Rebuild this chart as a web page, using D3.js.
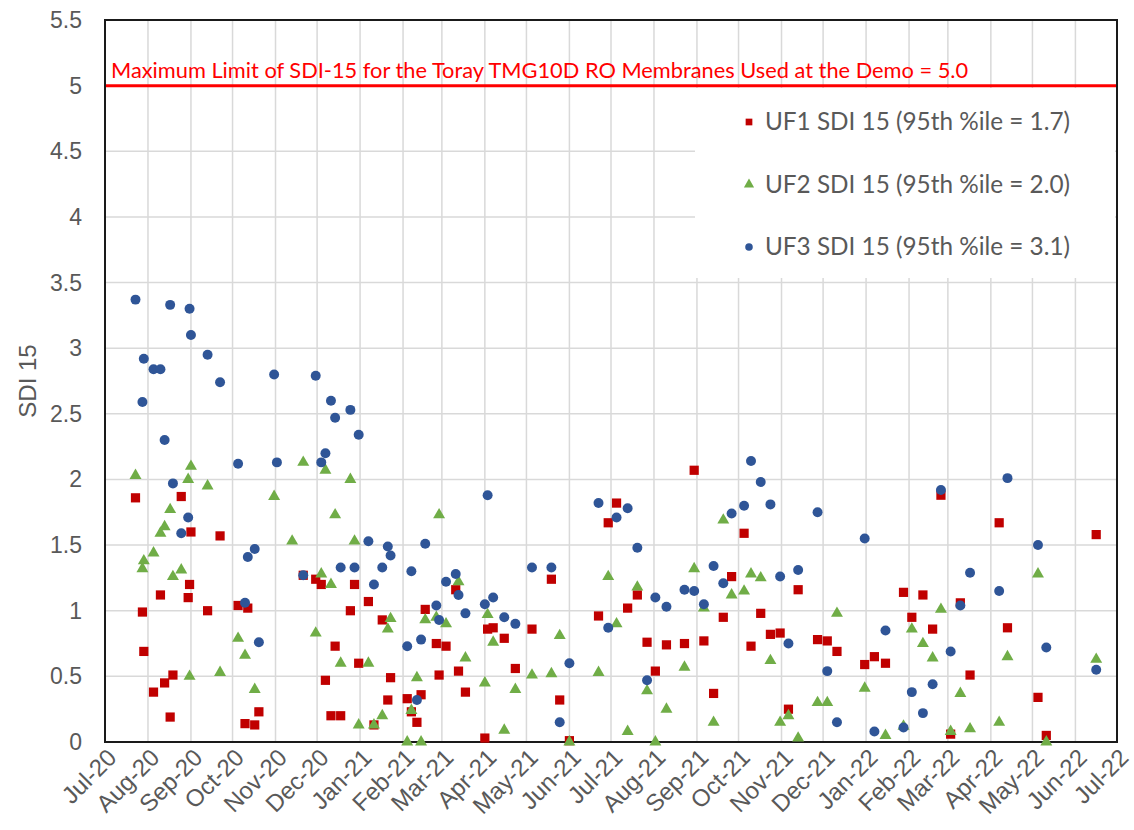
<!DOCTYPE html>
<html>
<head>
<meta charset="utf-8">
<script src="https://cdnjs.cloudflare.com/ajax/libs/d3/7.8.5/d3.min.js"></script>
<style>
	body { margin: 0; background: #fff; }
	#chart { width: 1134px; height: 830px; }
	.tick-label { font-family: "Liberation Sans", Arial, sans-serif; fill: #595959; }
</style>
</head>
<body>
<div id="chart"></div>
<script>
let sampleDates = [
	"2020-07-23", "2020-07-28", "2020-07-29", "2020-08-05", "2020-08-10", "2020-08-13",
	"2020-08-17", "2020-08-19", "2020-08-25", "2020-08-30", "2020-08-31", "2020-09-01",
	"2020-09-13", "2020-09-22", "2020-10-05", "2020-10-10", "2020-10-12", "2020-10-17",
	"2020-10-20", "2020-10-31", "2020-11-02", "2020-11-13", "2020-11-21", "2020-11-30",
	"2020-12-04", "2020-12-07", "2020-12-11", "2020-12-14", "2020-12-18", "2020-12-25",
	"2020-12-28", "2020-12-31", "2021-01-07", "2021-01-11", "2021-01-17", "2021-01-21",
	"2021-01-23", "2021-02-04", "2021-02-07", "2021-02-11", "2021-02-14", "2021-02-17",
	"2021-02-25", "2021-02-27", "2021-03-04", "2021-03-11", "2021-03-13", "2021-03-18",
	"2021-04-01", "2021-04-03", "2021-04-07", "2021-04-15", "2021-04-23", "2021-05-05",
	"2021-05-19", "2021-05-25", "2021-06-01", "2021-06-22", "2021-06-29", "2021-07-05",
	"2021-07-13", "2021-07-20", "2021-07-27", "2021-08-02", "2021-08-10", "2021-08-23",
	"2021-08-30", "2021-09-06", "2021-09-13", "2021-09-20", "2021-09-26", "2021-10-05",
	"2021-10-10", "2021-10-17", "2021-10-24", "2021-10-31", "2021-11-06", "2021-11-13",
	"2021-11-27", "2021-12-04", "2021-12-11", "2021-12-31", "2022-01-07", "2022-01-15",
	"2022-01-28", "2022-02-03", "2022-02-11", "2022-02-18", "2022-02-24", "2022-03-03",
	"2022-03-10", "2022-03-17", "2022-04-07", "2022-04-13", "2022-05-05", "2022-05-11",
	"2022-06-16",
];

let uf1 = [
	1.86, 0.99, 0.69, 0.38, 1.12, 0.45, 0.19, 0.51, 1.87, 1.10, 1.20, 1.60,
	1.00, 1.57, 1.04, 0.14, 1.02, 0.13, 0.23, null, null, null, 1.27, 1.24,
	1.20, 0.47, 0.20, 0.73, 0.20, 1.00, 1.20, 0.60, 1.07, 0.13, 0.93, 0.32,
	0.49, 0.33, 0.23, 0.15, 0.36, 1.01, 0.75, 0.51, 0.73, 1.16, 0.54, 0.38,
	0.03, 0.86, 0.87, 0.79, 0.56, 0.86, 1.24, 0.32, 0.01, 0.96, 1.67, 1.82,
	1.02, 1.12, 0.76, 0.54, 0.74, 0.75, 2.07, 0.77, 0.37, 0.95, 1.26, 1.59,
	0.73, 0.98, 0.82, 0.83, 0.25, 1.16, 0.78, 0.77, 0.69, 0.59, 0.65, 0.60,
	1.14, 0.95, 1.12, 0.86, 1.88, 0.06, 1.06, 0.51, 1.67, 0.87, 0.34, 0.05,
	1.58,
];

let uf2 = [
	2.03, 1.32, 1.38, 1.44, 1.59, 1.64, 1.77, 1.26, 1.31, 2.00, 0.50, 2.10,
	1.95, 0.53, 0.79, 0.66, null, 0.40, null, 1.87, null, 1.53, 2.13, 0.83,
	1.28, 2.07, 1.20, 1.73, 0.60, 2.00, 1.53, 0.13, 0.60, 0.13, 0.20, 0.86,
	0.94, 0.00, 0.24, 0.49, 0.00, 0.93, 0.95, 1.73, 0.90, null, 1.22, 0.64,
	0.45, 0.97, 0.76, 0.09, 0.40, 0.51, 0.52, 0.81, 0.00, 0.53, 1.26, 0.90,
	0.08, 1.18, 0.39, 0.00, 0.25, 0.57, 1.32, 1.02, 0.15, 1.69, 1.12, 1.15,
	1.28, 1.25, 0.62, 0.15, 0.20, 0.03, 0.30, 0.30, 0.98, 0.41, null, 0.05,
	0.12, 0.86, 0.75, 0.64, 1.01, 0.08, 0.37, 0.10, 0.15, 0.65, 1.28, 0.00,
	0.63,
];

let uf3 = [
	3.37, 2.59, 2.92, 2.84, 2.84, 2.30, 3.33, 1.97, 1.59, 1.71, 3.30, 3.10,
	2.95, 2.74, 2.12, 1.06, 1.41, 1.47, 0.76, 2.80, 2.13, null, 1.27, 2.79,
	2.13, 2.20, 2.60, 2.47, 1.33, 2.53, 1.33, 2.34, 1.53, 1.20, 1.33, 1.49,
	1.42, 0.73, 1.30, 0.32, 0.78, 1.51, 1.04, 0.93, 1.22, 1.28, 1.12, 0.98,
	1.05, 1.88, 1.10, 0.95, 0.90, 1.33, 1.33, 0.15, 0.60, 1.82, 0.87, 1.71,
	1.78, 1.48, 0.47, 1.10, 1.03, 1.16, 1.15, 1.05, 1.34, 1.21, 1.74, 1.80,
	2.14, 1.98, 1.81, 1.26, 0.75, 1.31, 1.75, 0.54, 0.15, 1.55, 0.08, 0.85,
	0.11, 0.38, 0.22, 0.44, 1.92, 0.69, 1.04, 1.29, 1.15, 2.01, 1.50, 0.72,
	0.55,
];

let seriesNames = [
	"UF1 SDI 15 (95th %ile = 1.7)",
	"UF2 SDI 15 (95th %ile = 2.0)",
	"UF3 SDI 15 (95th %ile = 3.1)",
];
let seriesColors = ["#c00000", "#70ad47", "#2f5597"];
let seriesShapes = [d3.symbolSquare, d3.symbolTriangle, d3.symbolCircle];

let limitValue = 5.0;
let limitLabel =
	"Maximum Limit of SDI-15 for the Toray TMG10D RO Membranes Used at the Demo = 5.0";
let yTitle = "SDI 15";
let xStart = "2020-07-01",
	xEnd = "2022-07-01";

var w = 1134,
	h = 830,
	margin = { left: 105, top: 20, right: 17, bottom: 88 };

let parseDate = d3.timeParse("%Y-%m-%d");

let svg = d3
	.select("#chart")
	.append("svg")
	.attr("width", w)
	.attr("height", h);

let x = d3
	.scaleTime()
	.domain([parseDate(xStart), parseDate(xEnd)])
	.range([margin.left, w - margin.right]);

let y = d3
	.scaleLinear()
	.domain([0, 5.5])
	.range([h - margin.bottom, margin.top]);

let months = d3.timeMonth.range(parseDate(xStart), d3.timeDay.offset(parseDate(xEnd), 1));
let yTicks = d3.range(0, 5.51, 0.5);

// gridlines
svg
	.append("g")
	.selectAll("line")
	.data(months)
	.enter()
	.append("line")
	.attr("x1", (d) => x(d))
	.attr("x2", (d) => x(d))
	.attr("y1", y(5.5))
	.attr("y2", y(0))
	.attr("stroke", "#d9d9d9")
	.attr("stroke-width", 1.5);

svg
	.append("g")
	.selectAll("line")
	.data(yTicks)
	.enter()
	.append("line")
	.attr("x1", x.range()[0])
	.attr("x2", x.range()[1])
	.attr("y1", (d) => y(d))
	.attr("y2", (d) => y(d))
	.attr("stroke", "#d9d9d9")
	.attr("stroke-width", 1.5);

// legend box hides the grid behind it
svg
	.append("rect")
	.attr("x", 695)
	.attr("y", 88)
	.attr("width", 420)
	.attr("height", 190)
	.attr("fill", "#fff");

// limit line
svg
	.append("line")
	.attr("x1", x.range()[0])
	.attr("x2", x.range()[1])
	.attr("y1", y(limitValue))
	.attr("y2", y(limitValue))
	.attr("stroke", "#ff0000")
	.attr("stroke-width", 3);

svg
	.append("text")
	.attr("x", x.range()[0] + 6)
	.attr("y", y(limitValue) - 8)
	.attr("fill", "#ff0000")
	.style("font-family", "Lato, 'Open Sans', sans-serif")
	.style("font-size", "21.8px")
	.text(limitLabel);

// plot border
svg
	.append("rect")
	.attr("x", x.range()[0])
	.attr("y", y(5.5))
	.attr("width", x.range()[1] - x.range()[0])
	.attr("height", y(0) - y(5.5))
	.attr("fill", "none")
	.attr("stroke", "#1a1a1a")
	.attr("stroke-width", 2);

// y tick labels
svg
	.append("g")
	.selectAll("text")
	.data(yTicks)
	.enter()
	.append("text")
	.attr("class", "tick-label")
	.attr("x", 82)
	.attr("y", (d) => y(d) + 8)
	.attr("text-anchor", "end")
	.style("font-size", "23px")
	.text((d) => d3.format("")(d));

// x tick labels
let fmt = d3.timeFormat("%b-%y");
svg
	.append("g")
	.selectAll("text")
	.data(months)
	.enter()
	.append("text")
	.attr("class", "tick-label")
	.attr("text-anchor", "end")
	.attr("transform", (d) => "translate(" + (x(d) + 13) + "," + (y(0) + 17) + ") rotate(-45)")
	.style("font-size", "24px")
	.text((d) => fmt(d));

// y title
svg
	.append("text")
	.attr("class", "tick-label")
	.attr("text-anchor", "middle")
	.attr("transform", "translate(36," + (y(2.75) + 0) + ") rotate(-90)")
	.style("font-size", "24px")
	.text(yTitle);

// points
let allSeries = [uf1, uf2, uf3];
let markerSizes = [85, 62, 78];

allSeries.forEach((vals, s) => {
	let pts = sampleDates
		.map((d, i) => ({ date: parseDate(d), value: vals[i] }))
		.filter((p) => p.value !== null);

	svg
		.append("g")
		.selectAll("path")
		.data(pts)
		.enter()
		.append("path")
		.attr("d", d3.symbol().type(seriesShapes[s]).size(markerSizes[s]))
		.attr("transform", (p) => "translate(" + x(p.date) + "," + y(p.value) + ")")
		.attr("fill", seriesColors[s]);
});

// legend
let legend = svg.append("g").attr("id", "legend");

legend
	.selectAll("path")
	.data(seriesNames)
	.enter()
	.append("path")
	.attr("d", (d, i) => d3.symbol().type(seriesShapes[i]).size(45)())
	.attr("transform", (d, i) => "translate(749," + (122 + i * 62.5) + ")")
	.attr("fill", (d, i) => seriesColors[i]);

legend
	.selectAll("text")
	.data(seriesNames)
	.enter()
	.append("text")
	.attr("x", 765)
	.attr("y", (d, i) => 130 + i * 62.5)
	.attr("fill", "#595959")
	.style("font-family", "Lato, 'Open Sans', sans-serif")
	.style("font-size", "24.3px")
	.text((d) => d);
</script>
</body>
</html>
